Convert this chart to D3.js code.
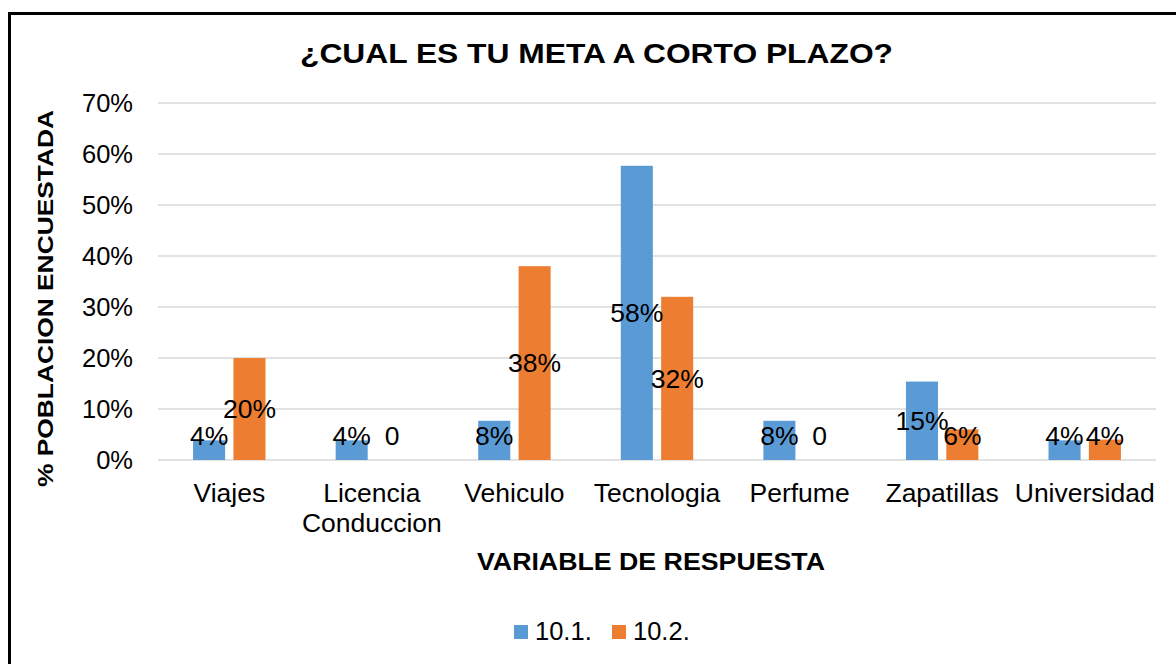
<!DOCTYPE html>
<html>
<head>
<meta charset="utf-8">
<script src="https://cdn.jsdelivr.net/npm/d3@7"></script>
<style>
  body { margin: 0; background: #fff; }
  svg { display: block; font-family: "Liberation Sans", Arial, sans-serif; }
</style>
</head>
<body>
<svg width="1176" height="664"></svg>
<script>
// Chart data
const categories = ["Viajes", "Licencia Conduccion", "Vehiculo", "Tecnologia", "Perfume", "Zapatillas", "Universidad"];
const seriesNames = ["10.1.", "10.2."];
const series1 = [0.0385, 0.0385, 0.0769, 0.5769, 0.0769, 0.1538, 0.0385];
const series2 = [0.20, 0, 0.38, 0.32, 0, 0.06, 0.04];
const yTicks = [0, 0.1, 0.2, 0.3, 0.4, 0.5, 0.6, 0.7];
const colors = ["#5B9BD5", "#ED7D31"];

const svg = d3.select("svg");

// outer frame (right and bottom edges fall outside the picture)
svg.append("rect")
  .attr("x", 9.5).attr("y", 13.5)
  .attr("width", 1200).attr("height", 700)
  .attr("fill", "none")
  .attr("stroke", "#000")
  .attr("stroke-width", 3);

const x = d3.scaleBand().domain(categories).range([158, 1156]);
const x1 = d3.scaleBand().domain(seriesNames)
  .range([x.bandwidth() / 2 - 36.2, x.bandwidth() / 2 + 36.2])
  .paddingInner(0.206);
const y = d3.scaleLinear().domain([0, 0.7]).range([460, 103]);

// gridlines
svg.append("g")
  .selectAll("line")
  .data(yTicks)
  .join("line")
  .attr("x1", 158).attr("x2", 1156)
  .attr("y1", d => y(d)).attr("y2", d => y(d))
  .attr("stroke", "#D9D9D9")
  .attr("stroke-width", 1.3);

// y axis labels
const yAxis = svg.append("g")
  .attr("transform", "translate(133,0)")
  .call(d3.axisLeft(y).tickValues(yTicks).tickFormat(d3.format(".0%")).tickSize(0).tickPadding(0));
yAxis.select(".domain").remove();
yAxis.selectAll("text")
  .attr("font-family", "Liberation Sans, Arial, sans-serif")
  .attr("font-size", 25.5)
  .attr("fill", "#000")
  .attr("dy", "0.35em");

// x axis labels
const xAxis = svg.append("g")
  .attr("transform", "translate(0,460)")
  .call(d3.axisBottom(x).tickSize(0).tickPadding(0));
xAxis.select(".domain").remove();
xAxis.selectAll("text")
  .attr("font-family", "Liberation Sans, Arial, sans-serif")
  .attr("font-size", 26.5)
  .attr("fill", "#000")
  .attr("y", 0)
  .attr("dy", 0)
  .each(function(d) {
    const t = d3.select(this);
    const words = d.split(" ");
    t.text(null);
    let lines = [words[0]];
    words.slice(1).forEach(w => {
      const test = lines[lines.length - 1] + " " + w;
      t.text(test);
      if (this.getComputedTextLength() > x.bandwidth() - 6) lines.push(w);
      else lines[lines.length - 1] = test;
    });
    t.text(null);
    lines.forEach((ln, i) => {
      t.append("tspan").attr("x", 0).attr("y", 41.5 + i * 30).text(ln);
    });
  });

// bars
const rows = categories.map((c, i) => ({ cat: c, vals: [series1[i], series2[i]] }));
const groups = svg.append("g")
  .selectAll("g")
  .data(rows)
  .join("g")
  .attr("transform", d => `translate(${x(d.cat)},0)`);

groups.selectAll("rect")
  .data(d => d.vals.map((v, k) => ({ key: seriesNames[k], v, k })))
  .join("rect")
  .attr("x", d => x1(d.key))
  .attr("width", x1.bandwidth())
  .attr("y", d => y(d.v))
  .attr("height", d => y(0) - y(d.v))
  .attr("fill", d => colors[d.k]);

// data labels
groups.selectAll("text")
  .data(d => d.vals.map((v, k) => ({ key: seriesNames[k], v, k })))
  .join("text")
  .attr("x", d => x1(d.key) + x1.bandwidth() / 2)
  .attr("y", d => Math.min(y(d.v / 2), 436))
  .attr("dy", "0.35em")
  .attr("text-anchor", "middle")
  .attr("font-size", 26.5)
  .attr("fill", "#000")
  .text(d => d.v === 0 ? "0" : d3.format(".0%")(d.v));

// titles
svg.append("text")
  .attr("x", 300).attr("y", 63)
  .attr("font-size", 28).attr("font-weight", "bold")
  .attr("textLength", 593).attr("lengthAdjust", "spacingAndGlyphs")
  .text("¿CUAL ES TU META A CORTO PLAZO?");

svg.append("text")
  .attr("x", 477).attr("y", 570)
  .attr("font-size", 23.5).attr("font-weight", "bold")
  .attr("textLength", 348).attr("lengthAdjust", "spacingAndGlyphs")
  .text("VARIABLE DE RESPUESTA");

svg.append("text")
  .attr("transform", "translate(53,487) rotate(-90)")
  .attr("font-size", 22).attr("font-weight", "bold")
  .attr("textLength", 377).attr("lengthAdjust", "spacingAndGlyphs")
  .text("% POBLACION ENCUESTADA");

// legend
const legendX = [514, 612];
const legend = svg.append("g")
  .selectAll("g")
  .data(seriesNames)
  .join("g")
  .attr("transform", (d, i) => `translate(${legendX[i]},625)`);
legend.append("rect")
  .attr("width", 14).attr("height", 14)
  .attr("fill", (d, i) => colors[i]);
legend.append("text")
  .attr("x", 21).attr("y", 15)
  .attr("font-size", 25.5)
  .text(d => d);
</script>
</body>
</html>
